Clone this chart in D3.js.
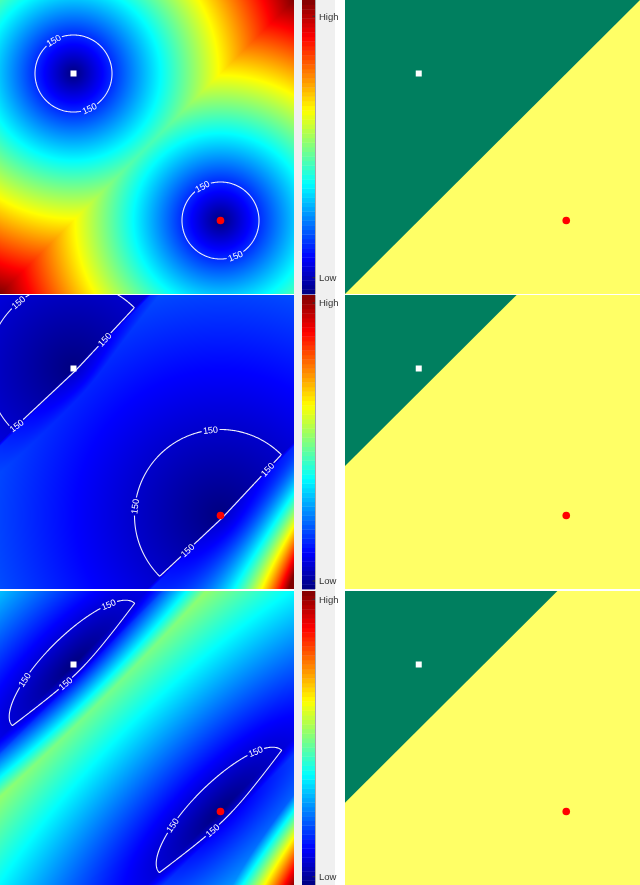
<!DOCTYPE html>
<html><head><meta charset="utf-8">
<script src="https://cdn.jsdelivr.net/npm/d3@7"></script>
<style>
html,body{margin:0;padding:0;background:#fff;}
#wrap{position:relative;width:640px;height:885px;overflow:hidden;}
#wrap canvas,#wrap svg{position:absolute;left:0;top:0;}
</style></head><body><div id="wrap"></div>
<script>
// ---------------- data ----------------
const domainMin = 0, domainMax = 4;           // feature space (both axes, y grows downward)
const protoX = [1, 3];                         // prototype x (white square, red dot)
const protoY = [1, 3];                         // prototype y
const protoShape = ["square", "circle"];
const protoColor = ["#ffffff", "#ff0000"];
const regionColor = ["#007f5f", "#ffff66"];   // decision regions (class of white, class of red)
const contourLevel = 150;
const contourLabel = "150";
const colorbarLabels = ["Low", "High"];
const colorbarTicks = [[50, 855], [55, 1970], [50, 1735]];
const colorMax = [905, 2025, 1785];            // top of colour scale per row
// decision boundary per row: x + y = boundarySum
const boundarySum = [4.0, 2.327, 2.88];
// dissimilarity parameters per row, per prototype [white, red]
const metricA   = [[0.524, 0.524], [1.170, 1.170], [0.381, 0.381]];
const metricB   = [[0.524, 0.524], [1.170, 1.170], [1.177, 1.177]];
const jumpHeight= [[0, 0], [1, 1], [1, 1]];
const jumpWidth = [[1, 1], [0.041, 0.041], [0.163, 0.163]];
const rampK     = [[0, 0], [6.73, 6.73], [6.72, 9.70]];
const rampStart = [[0, 0], [0, 0], [0.136, 0.680]];
const rampPow   = [[1, 1], [1.8, 1.8], [1, 1]];
const rampFan   = [[0, 0], [0.3675, 0.3675], [0, 0.294]];

// ---------------- layout ----------------
const W = 640, H = 885;
const rowTop = [0, 295, 591];
const S = 294;
const leftX = [0, 294], rightX = [345, 640];
const cbX = [302, 315];
// preferred contour-label spots: pixel offsets from each prototype
const labelSpots = [
  [[[-20,-34],[15,34]], [[-19,-35],[14,34]]],
  [[[-54,-64],[30,-30],[-57,58]], [[-10,-82],[50,-44],[-86,-9],[-30,38]]],
  [[[36,-59],[-47,17],[-9,18]], [[36,-59],[-46,15],[-8,20]]]
];
const FONT = "Liberation Sans, Arial, Helvetica, sans-serif";

const wrap = d3.select("#wrap");
const canvas = wrap.append("canvas").attr("width", W).attr("height", H).node();
const ctx = canvas.getContext("2d");
const svg = wrap.append("svg").attr("width", W).attr("height", H);

// jet colormap (continuous)
const cl = v => Math.max(0, Math.min(1, v));
function jetRGB(t){
  t = cl(t);
  return [cl(Math.min(4*t-1.5, -4*t+4.5)), cl(Math.min(4*t-0.5, -4*t+3.5)), cl(Math.min(4*t+0.5, -4*t+2.5))]
    .map(c => Math.round(c*255));
}
function jetCss(t){ const c = jetRGB(t); return `rgb(${c[0]},${c[1]},${c[2]})`; }

function dissim(r, k, x, y){
  const dx = x - protoX[k], dy = y - protoY[k];
  const u = (dx + dy)/Math.SQRT2, v = (dx - dy)/Math.SQRT2;
  let f = Math.hypot(u/metricA[r][k], v/metricB[r][k]);
  if (u > 0){
    if (jumpHeight[r][k] > 0) f += jumpHeight[r][k]*Math.min(1, u/jumpWidth[r][k]);
    const fan = Math.max(0.1, 1 + rampFan[r][k]*v);
    const w = u*fan - rampStart[r][k];
    if (w > 0 && rampK[r][k] > 0) f += rampK[r][k]*Math.pow(w, rampPow[r][k]);
  }
  return contourLevel*f;
}
function field(r, x, y){
  let m = Infinity;
  for (let k=0;k<protoX.length;k++) m = Math.min(m, dissim(r,k,x,y));
  return m;
}

// gray strip behind colorbars
svg.append("rect").attr("x", 294).attr("y", 0).attr("width", 41).attr("height", H).attr("fill", "#f0f0f0");
const defs = svg.append("defs");

rowTop.forEach((top, r) => {
  const xs = d3.scaleLinear().domain([domainMin, domainMax]).range(leftX);
  const ys = d3.scaleLinear().domain([domainMin, domainMax]).range([top, top+S]);
  const cs = d3.scaleLinear().domain([0, colorMax[r]]).range([0, 1]).clamp(true);

  // heatmap (one cell per pixel)
  const x0 = Math.round(leftX[0]), y0 = Math.round(top);
  const wpx = Math.round(leftX[1]-leftX[0]), hpx = S;
  const img = ctx.createImageData(wpx, hpx);
  for (let j=0;j<hpx;j++){
    const y = ys.invert(y0 + j + 0.5);
    for (let i=0;i<wpx;i++){
      const x = xs.invert(x0 + i + 0.5);
      const c = jetRGB(cs(field(r, x, y)));
      const p = (j*wpx+i)*4;
      img.data[p]=c[0]; img.data[p+1]=c[1]; img.data[p+2]=c[2]; img.data[p+3]=255;
    }
  }
  ctx.putImageData(img, x0, y0);

  // contour at level 150
  const pad = 6, nx = wpx + 2*pad, ny = hpx + 2*pad;
  const vals = new Float64Array(nx*ny);
  for (let j=0;j<ny;j++){
    const y = ys.invert(y0 + j - pad + 0.5);
    for (let i=0;i<nx;i++) vals[j*nx+i] = field(r, xs.invert(x0 + i - pad + 0.5), y);
  }
  const geo = d3.contours().size([nx, ny]).thresholds([contourLevel])(vals)[0];
  const rings = [];
  geo.coordinates.forEach(poly => poly.forEach(ring => {
    rings.push(ring.map(p => [x0 + p[0] - pad, y0 + p[1] - pad]));
  }));

  const clipId = "clip"+r, maskId = "mask"+r;
  defs.append("clipPath").attr("id", clipId).append("rect")
    .attr("x", leftX[0]).attr("y", top).attr("width", leftX[1]-leftX[0]).attr("height", S);
  const mask = defs.append("mask").attr("id", maskId).attr("maskUnits","userSpaceOnUse")
    .attr("x",0).attr("y",0).attr("width",W).attr("height",H);
  mask.append("rect").attr("x",0).attr("y",0).attr("width",W).attr("height",H).attr("fill","#fff");

  const inside = p => p[0] > leftX[0]+5 && p[0] < leftX[1]-5 && p[1] > top+5 && p[1] < top+S-5;
  const labels = [];
  protoX.forEach((px, k) => {
    const pX = xs(px), pY = ys(protoY[k]);
    labelSpots[r][k].forEach(off => {
      const tx = pX + off[0], ty = pY + off[1];
      let bestR = -1, best = -1, bd = Infinity;
      rings.forEach((ring, ri) => ring.forEach((p, i) => {
        if (!inside(p)) return;
        const d = Math.hypot(p[0]-tx, p[1]-ty);
        if (d < bd){ bd = d; best = i; bestR = ri; }
      }));
      if (best < 0 || bd > 30) return;
      const ring = rings[bestR], n = ring.length, p = ring[best];
      let a = best, b = best, la = 0, lb = 0;
      while (la < 6){ const na = (a - 1 + n) % n; la += Math.hypot(ring[na][0]-ring[a][0], ring[na][1]-ring[a][1]); a = na; if (a === best) break; }
      while (lb < 6){ const nb = (b + 1) % n; lb += Math.hypot(ring[nb][0]-ring[b][0], ring[nb][1]-ring[b][1]); b = nb; if (b === best) break; }
      let ang = Math.atan2(ring[b][1]-ring[a][1], ring[b][0]-ring[a][0])*180/Math.PI;
      if (ang > 90) ang -= 180; if (ang < -90) ang += 180;
      labels.push({p, ang});
    });
  });
  labels.forEach(l => {
    mask.append("rect").attr("x",-9).attr("y",-4.5).attr("width",18).attr("height",9).attr("fill","#000")
      .attr("transform",`translate(${l.p[0]},${l.p[1]}) rotate(${l.ang})`);
  });
  const line = d3.line();
  const cg = svg.append("g").attr("clip-path",`url(#${clipId})`);
  cg.append("g").attr("mask",`url(#${maskId})`).selectAll("path").data(rings).join("path")
    .attr("d", d => line(d) + "Z").attr("fill","none").attr("stroke","#eeeefa").attr("stroke-width",1.1);
  cg.selectAll("text").data(labels).join("text")
    .attr("transform", d => `translate(${d.p[0]},${d.p[1]}) rotate(${d.ang})`)
    .attr("text-anchor","middle").attr("dy","0.35em")
    .attr("font-family", FONT).attr("font-size",9)
    .attr("fill","#ffffff").text(contourLabel);

  // prototypes
  const drawProtos = (g, xsc) => {
    protoX.forEach((px, k) => {
      if (protoShape[k] === "square"){
        g.append("rect").attr("x", xsc(px)-3).attr("y", ys(protoY[k])-3).attr("width",6).attr("height",6).attr("fill",protoColor[k]);
      } else {
        g.append("circle").attr("cx", xsc(px)).attr("cy", ys(protoY[k])).attr("r",3.8).attr("fill",protoColor[k]);
      }
    });
  };
  drawProtos(svg.append("g"), xs);

  // colorbar
  const cb = d3.scaleLinear().domain([0, colorMax[r]]).range([top+S, top]);
  const bins = d3.range(64);
  svg.append("g").selectAll("rect").data(bins).join("rect")
    .attr("x", cbX[0]).attr("width", cbX[1]-cbX[0])
    .attr("y", i => cb((i+1)*colorMax[r]/64)).attr("height", i => cb(i*colorMax[r]/64) - cb((i+1)*colorMax[r]/64) + 0.4)
    .attr("fill", i => jetCss((i+0.5)/64));
  svg.append("line").attr("x1", cbX[1]+0.5).attr("x2", cbX[1]+0.5).attr("y1", top).attr("y2", top+S)
    .attr("stroke","#a8a8a8").attr("stroke-width",1);
  const tg = svg.append("g").selectAll("g").data(colorbarTicks[r]).join("g")
    .attr("transform", d => `translate(0,${cb(d)})`);
  tg.append("line").attr("x1", cbX[1]-2.5).attr("x2", cbX[1]).attr("stroke","#333").attr("stroke-width",1);
  tg.append("text").attr("x", cbX[1]+4).attr("dy","0.35em")
    .attr("font-family", FONT).attr("font-size",9.5).attr("fill","#333")
    .text((d,i) => colorbarLabels[i]);

  // decision regions
  const xr = d3.scaleLinear().domain([domainMin, domainMax]).range(rightX);
  const rg = svg.append("g");
  rg.append("rect").attr("x", rightX[0]).attr("y", top).attr("width", rightX[1]-rightX[0]).attr("height", S).attr("fill", regionColor[1]);
  const c = boundarySum[r];
  const poly = [[domainMin, domainMin], [Math.min(domainMax, c), domainMin], [domainMin, Math.min(domainMax, c)]];
  rg.append("path").attr("d", d3.line()(poly.map(p => [xr(p[0]), ys(p[1])])) + "Z").attr("fill", regionColor[0]);
  drawProtos(rg, xr);
});
</script></body></html>
